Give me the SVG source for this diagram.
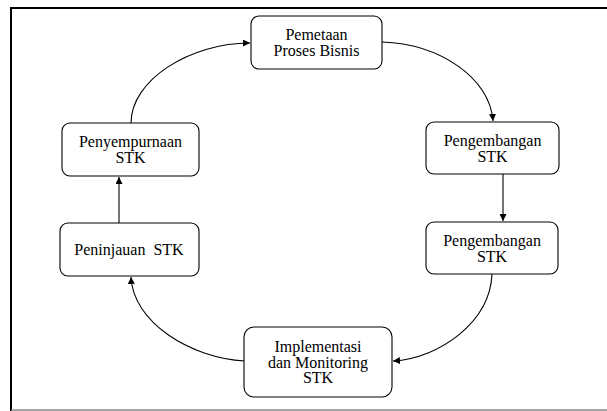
<svg xmlns="http://www.w3.org/2000/svg" width="607" height="411" viewBox="0 0 607 411">
<style>
.box{fill:#fff;stroke:#000;stroke-width:1.1}
.t{font-family:"Liberation Serif","Times New Roman",serif;font-size:16px;fill:#000;text-anchor:middle}
.c{fill:none;stroke:#000;stroke-width:1.1}
</style>
<defs>
<marker id="ah" viewBox="0 0 10 10" refX="10" refY="5" markerWidth="7" markerHeight="7" markerUnits="userSpaceOnUse" orient="auto">
<path d="M0,0 L10,5 L0,10 Z" fill="#000"/>
</marker>
</defs>
<rect width="607" height="411" fill="#fff"/>
<g id="frame">
<path d="M11,411 L11,8 L607,8" fill="none" stroke="#000" stroke-width="2"/>
<path d="M11,410 L607,410" fill="none" stroke="#888" stroke-width="1.5"/>
</g>
<g id="connectors">
<path class="c" d="M131,123 C131,80 190,43 250,43" marker-end="url(#ah)"/>
<path class="c" d="M382,42 C440,44 490,78 493,121" marker-end="url(#ah)"/>
<path class="c" d="M503,174 L503,221" marker-end="url(#ah)"/>
<path class="c" d="M492,274 C490,322 440,358 393,361" marker-end="url(#ah)"/>
<path class="c" d="M245,361 C190,358 133,322 131,277" marker-end="url(#ah)"/>
<path class="c" d="M119,223 L119,177" marker-end="url(#ah)"/>
</g>
<g id="n1">
<rect class="box" x="251" y="16" width="131" height="53" rx="8"/>
<text class="t" x="316.5" y="39.5">Pemetaan</text>
<text class="t" x="316.5" y="55.5">Proses Bisnis</text>
</g>
<g id="n2">
<rect class="box" x="426" y="122" width="133" height="52" rx="8"/>
<text class="t" x="492.5" y="146">Pengembangan</text>
<text class="t" x="492.5" y="161.5">STK</text>
</g>
<g id="n3">
<rect class="box" x="426" y="222" width="132" height="52" rx="8"/>
<text class="t" x="492" y="246">Pengembangan</text>
<text class="t" x="492" y="261.5">STK</text>
</g>
<g id="n4">
<rect class="box" x="244" y="327" width="148" height="70" rx="10"/>
<text class="t" x="318" y="352">Implementasi</text>
<text class="t" x="318" y="367.5">dan Monitoring</text>
<text class="t" x="318" y="383">STK</text>
</g>
<g id="n5">
<rect class="box" x="62" y="123" width="137" height="53" rx="8"/>
<text class="t" x="130.5" y="147">Penyempurnaan</text>
<text class="t" x="130.5" y="163">STK</text>
</g>
<g id="n6">
<rect class="box" x="60" y="223" width="139" height="53" rx="8"/>
<text class="t" x="129" y="255" xml:space="preserve">Peninjauan  STK</text>
</g>
</svg>
